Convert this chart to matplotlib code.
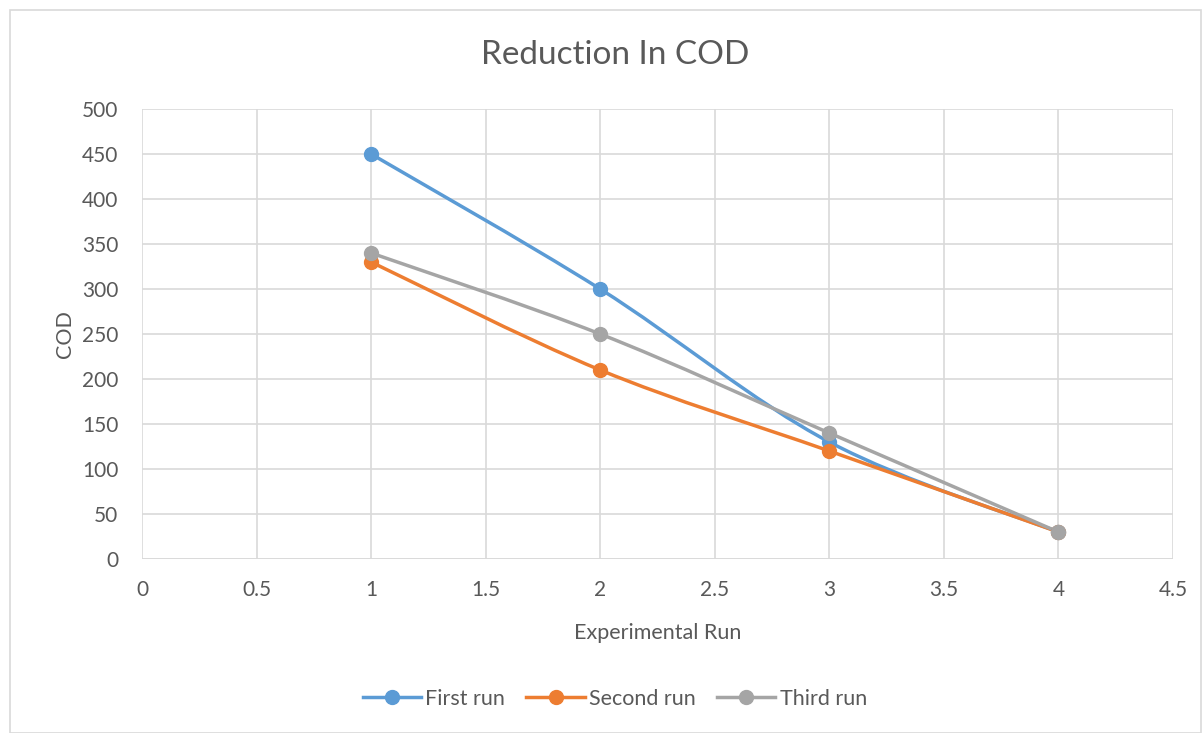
import matplotlib.pyplot as plt
import matplotlib.patches as mpatches
from matplotlib.path import Path
from matplotlib.lines import Line2D
import numpy as np

runs = [1, 2, 3, 4]
first_run = [450, 300, 130, 30]
second_run = [330, 210, 120, 30]
third_run = [340, 250, 140, 30]
labels = ['First run', 'Second run', 'Third run']
colors = ['#5B9BD5', '#ED7D31', '#A5A5A5']

plt.rcParams['font.family'] = ['Lato', 'DejaVu Sans']
txt = '#595959'


def smooth_path(x, y):
    # Excel-style smoothed line as cubic bezier segments
    p = np.column_stack([x, y]).astype(float)
    n = len(p)
    verts = [p[0]]
    codes = [Path.MOVETO]
    for i in range(n - 1):
        p0 = p[i - 1] if i > 0 else p[i]
        p1 = p[i]
        p2 = p[i + 1]
        p3 = p[i + 2] if i + 2 < n else p[i + 1]
        c1 = p1 + (p2 - p0) / 6
        c2 = p2 - (p3 - p1) / 6
        verts += [c1, c2, p2]
        codes += [Path.CURVE4] * 3
    return Path(verts, codes)


fig = plt.figure(figsize=(12.03, 7.33), dpi=100)
ax = fig.add_axes([0.118, 0.2374, 0.857, 0.6139])

for ys, lab, c in zip([first_run, second_run, third_run], labels, colors):
    patch = mpatches.PathPatch(smooth_path(runs, ys), facecolor='none', edgecolor=c,
                               lw=2.5, capstyle='round', zorder=3)
    ax.add_patch(patch)
    ax.plot(runs, ys, 'o', color=c, ms=10, zorder=4)

ax.set_xlim(0, 4.5)
ax.set_ylim(0, 500)
ax.set_xticks(np.arange(0, 4.51, 0.5))
ax.set_xticklabels(['0', '0.5', '1', '1.5', '2', '2.5', '3', '3.5', '4', '4.5'])
ax.set_yticks(np.arange(0, 501, 50))
ax.grid(True, color='#D9D9D9', lw=1.2)
ax.set_axisbelow(True)
for s in ax.spines.values():
    s.set_visible(False)
ax.axhline(0, color='#D9D9D9', lw=1.2, zorder=1)
ax.tick_params(length=0, labelsize=15, colors=txt)
ax.tick_params(axis='y', pad=17)
ax.tick_params(axis='x', pad=15)

fig.suptitle('Reduction In COD', fontsize=24, color=txt, x=0.511, y=0.925,
             va='center')
ax.set_xlabel('Experimental Run', fontsize=15.5, color=txt, labelpad=17)
ax.set_ylabel('COD', fontsize=15.5, color=txt, labelpad=5)

handles = [Line2D([], [], color=c, lw=2.5, marker='o', ms=10) for c in colors]
leg = fig.legend(handles, labels, loc='center', bbox_to_anchor=(0.511, 0.047), ncol=3,
                 frameon=False, fontsize=15.5, handlelength=2.7, columnspacing=1.0,
                 handletextpad=0.2)
for t in leg.get_texts():
    t.set_color(txt)

fig.patches.append(mpatches.Rectangle((10 / 1203, 0), 1191 / 1203, 723 / 733,
                                      transform=fig.transFigure, fill=False,
                                      edgecolor='#D9D9D9', lw=1.2))

fig.savefig('out.png', dpi=100)
